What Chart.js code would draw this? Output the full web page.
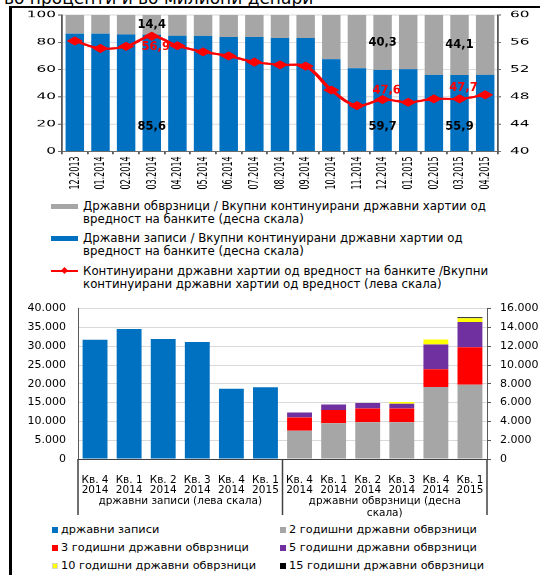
<!DOCTYPE html>
<html>
<head>
<meta charset="utf-8">
<script src="https://cdn.jsdelivr.net/npm/chart.js@4.4.1/dist/chart.umd.min.js"></script>
<style>
  body { margin: 0; width: 540px; height: 575px; overflow: hidden; position: relative; background: #fff;
         font-family: "DejaVu Sans", Verdana, sans-serif; color: #000; }
  #title { position: absolute; left: 4px; top: -10px; font-size: 17px; line-height: 16px; white-space: nowrap; }
  #frameTop { position: absolute; left: 9px; top: 6px; width: 531px; height: 2px; background: #000; z-index: 5; }
  #frameLeft { position: absolute; left: 9px; top: 6px; width: 3px; height: 569px; background: #000; z-index: 5; }
  #shareChart { position: absolute; left: 0; top: 0; transform: scaleX(1.8); transform-origin: 0 0; }
  #volumeChart { position: absolute; left: 0; top: 290px; }
  .tl { position: absolute; left: 83px; font-size: 11.8px; line-height: 13px; white-space: nowrap; }
  .sw { position: absolute; left: -32px; top: 4px; width: 27px; height: 5px; }
  .ln { position: absolute; left: -32px; top: 5px; width: 27px; height: 2px; background: #FF0000; }
  .dm { position: absolute; left: -21px; top: 3px; width: 5px; height: 5px; background: #FF0000; transform: rotate(45deg); }
  .bl { position: absolute; font-size: 11.3px; line-height: 14px; white-space: nowrap; }
  .sq { display: inline-block; width: 6px; height: 6px; margin-right: 3px; vertical-align: 0px; box-sizing: border-box; }
</style>
</head>
<body>
<div id="title">во проценти и во милиони денари</div>
<canvas id="shareChart" width="300" height="196"></canvas>

<div class="tl" style="top:200px"><span class="sw" style="background:#A6A6A6"></span>Државни обврзници / Вкупни континуирани државни хартии од<br>вредност на банките (десна скала)</div>
<div class="tl" style="top:232px"><span class="sw" style="background:#0070C0"></span>Државни записи / Вкупни континуирани државни хартии од<br>вредност на банките (десна скала)</div>
<div class="tl" style="top:265px"><span class="ln"></span><span class="dm"></span>Континуирани државни хартии од вредност на банките /Вкупни<br>континуирани државни хартии од вредност (лева скала)</div>

<canvas id="volumeChart" width="540" height="230"></canvas>

<div class="bl" style="left:52px;top:523px"><span class="sq" style="background:#0070C0"></span>државни записи</div>
<div class="bl" style="left:52px;top:541px"><span class="sq" style="background:#FF0000"></span>3 годишни државни обврзници</div>
<div class="bl" style="left:52px;top:559px"><span class="sq" style="background:#FFFF00;border:1px solid #d8d8c0"></span>10 годишни државни обврзници</div>
<div class="bl" style="left:280px;top:523px"><span class="sq" style="background:#A6A6A6"></span>2 годишни државни обврзници</div>
<div class="bl" style="left:280px;top:541px"><span class="sq" style="background:#7030A0"></span>5 годишни државни обврзници</div>
<div class="bl" style="left:280px;top:559px"><span class="sq" style="background:#000"></span>15 годишни државни обврзници</div>

<div id="frameTop"></div>
<div id="frameLeft"></div>

<script>
// top chart: shares, in %
const months = ['12.2013', '01.2014', '02.2014', '03.2014', '04.2014', '05.2014', '06.2014', '07.2014', '08.2014',
                '09.2014', '10.2014', '11.2014', '12.2014', '01.2015', '02.2015', '03.2015', '04.2015'];
const billsShare = [86.3, 86.3, 85.8, 85.6, 84.8, 84.6, 84.1, 84.1, 83.3, 83.3, 67.6, 61.0, 59.7, 60.3, 56.0, 55.9, 56.1];
const bondsShare = [13.7, 13.7, 14.2, 14.4, 15.2, 15.4, 15.9, 15.9, 16.7, 16.7, 32.4, 39.0, 40.3, 39.7, 44.0, 44.1, 43.9];
const bankShare = [56.2, 55.1, 55.4, 56.9, 55.5, 54.6, 54.0, 53.1, 52.7, 52.5, 49.0, 46.7, 47.6, 47.2, 47.7, 47.7, 48.3];
const labelledMonths = [3, 12, 15];

// bottom chart: volumes, in millions of denars
const quarters = [['Кв. 4', '2014'], ['Кв. 1', '2014'], ['Кв. 2', '2014'], ['Кв. 3', '2014'], ['Кв. 4', '2014'], ['Кв. 1', '2015'],
                  ['Кв. 4', '2014'], ['Кв. 1', '2014'], ['Кв. 2', '2014'], ['Кв. 3', '2014'], ['Кв. 4', '2014'], ['Кв. 1', '2015']];
const groupLabels = [['државни записи (лева скала)'], ['државни обврзници (десна', 'скала)']];
const bills   = [31700, 34600, 31900, 31100, 18700, 19100, null, null, null, null, null, null];
const bonds2y = [null, null, null, null, null, null, 3000, 3800, 3900, 3900, 7650, 7900];
const bonds3y = [null, null, null, null, null, null, 1420, 1420, 1480, 1470, 1900, 4000];
const bonds5y = [null, null, null, null, null, null, 540, 570, 570, 510, 2630, 2670];
const bonds10y = [null, null, null, null, null, null, 0, 0, 0, 180, 540, 400];
const bonds15y = [null, null, null, null, null, null, 0, 0, 0, 0, 0, 100];

const S = 1.8; // the top chart is stretched horizontally
const FONT = '"DejaVu Sans", Verdana, sans-serif';
const fmt = v => v.toFixed(1).replace('.', ',');
const thousands = v => String(v).replace(/\B(?=(\d{3})+(?!\d))/g, '.');

const shareLabels = {
    id: 'shareLabels',
    afterDatasetsDraw(chart) {
        const { ctx, scales: { x, y, y1 } } = chart;
        const put = (text, px, py, color) => {
            ctx.save();
            ctx.translate(px, py);
            ctx.scale(1 / S, 1);
            ctx.font = 'bold 11.5px ' + FONT;
            ctx.textAlign = 'center';
            ctx.textBaseline = 'middle';
            ctx.fillStyle = color;
            ctx.fillText(text, 0, 0);
            ctx.restore();
        };
        const lineShift = [11, -9, -11];
        labelledMonths.forEach((i, k) => {
            const cx = x.getPixelForValue(i);
            put(fmt(bondsShare[i]), cx, y.getPixelForValue(billsShare[i] + bondsShare[i] / 2), '#000');
            put(fmt(billsShare[i]), cx, y.getPixelForValue(18), '#000');
            put(fmt(bankShare[i]), cx + 4 / S, y1.getPixelForValue(bankShare[i]) + lineShift[k], '#FF0000');
        });
    }
};

new Chart(document.getElementById('shareChart'), {
    type: 'bar',
    data: {
        labels: months,
        datasets: [{
            type: 'line',
            data: bankShare,
            yAxisID: 'y1',
            borderColor: '#FF0000',
            backgroundColor: '#FF0000',
            borderWidth: 2.2,
            tension: 0.35,
            pointStyle: 'rectRot',
            pointRadius: 3,
            order: 0
        }, {
            data: billsShare,
            backgroundColor: '#0070C0',
            yAxisID: 'y',
            order: 1,
            barPercentage: 0.72,
            categoryPercentage: 1
        }, {
            data: bondsShare,
            backgroundColor: '#A6A6A6',
            yAxisID: 'y',
            order: 1,
            barPercentage: 0.72,
            categoryPercentage: 1
        }]
    },
    options: {
        responsive: false,
        animation: false,
        devicePixelRatio: S,
        layout: { padding: { top: 15, left: 0, right: 0, bottom: 0 } },
        plugins: { legend: { display: false }, tooltip: { enabled: false } },
        scales: {
            x: {
                stacked: true,
                afterFit: s => { s.height = 45; },
                grid: { drawOnChartArea: false, offset: true, tickLength: 3, color: '#595959' },
                border: { color: '#595959' },
                ticks: { font: { family: FONT, size: 8 }, color: '#000', minRotation: 90, maxRotation: 90, autoSkip: false, padding: 2 }
            },
            y: {
                stacked: true,
                min: 0, max: 100,
                afterFit: s => { s.width = 62 / S; },
                grid: { color: '#D9D9D9', tickColor: '#595959', tickLength: 4 / S },
                border: { color: '#595959' },
                ticks: { stepSize: 20, font: { family: FONT, size: 8.5 }, color: '#000', padding: 2 / S }
            },
            y1: {
                position: 'right',
                min: 40, max: 60,
                afterFit: s => { s.width = 42 / S; },
                grid: { drawOnChartArea: false, tickColor: '#595959', tickLength: 3 / S },
                border: { color: '#595959' },
                ticks: { stepSize: 4, font: { family: FONT, size: 8.5 }, color: '#000', padding: 9 / S }
            }
        }
    },
    plugins: [shareLabels]
});

const groupPlugin = {
    id: 'groups',
    afterDraw(chart) {
        const { ctx, scales: { x }, chartArea } = chart;
        const edges = [x.left, (x.getPixelForValue(5) + x.getPixelForValue(6)) / 2, x.right];
        ctx.save();
        ctx.strokeStyle = '#404040';
        ctx.lineWidth = 1.5;
        edges.forEach(px => {
            ctx.beginPath();
            ctx.moveTo(px, chartArea.bottom);
            ctx.lineTo(px, chartArea.bottom + 56);
            ctx.stroke();
        });
        ctx.font = '10.5px ' + FONT;
        ctx.fillStyle = '#000';
        ctx.textAlign = 'center';
        ctx.textBaseline = 'middle';
        groupLabels.forEach((lines, g) => {
            const cx = (edges[g] + edges[g + 1]) / 2;
            lines.forEach((t, k) => ctx.fillText(t, cx, chartArea.bottom + 42 + k * 12));
        });
        ctx.restore();
    }
};

const bar = (data, color, axis) => ({ data, backgroundColor: color, yAxisID: axis, barPercentage: 0.73, categoryPercentage: 1 });

new Chart(document.getElementById('volumeChart'), {
    type: 'bar',
    data: {
        labels: quarters,
        datasets: [
            bar(bills, '#0070C0', 'y'),
            bar(bonds2y, '#A6A6A6', 'y1'),
            bar(bonds3y, '#FF0000', 'y1'),
            bar(bonds5y, '#7030A0', 'y1'),
            bar(bonds10y, '#FFFF00', 'y1'),
            bar(bonds15y, '#000000', 'y1')
        ]
    },
    options: {
        responsive: false,
        animation: false,
        layout: { padding: { top: 11, left: 0, right: 0, bottom: 0 } },
        plugins: { legend: { display: false }, tooltip: { enabled: false } },
        scales: {
            x: {
                stacked: true,
                afterFit: s => { s.height = 61; },
                grid: { display: false },
                border: { display: true, color: '#404040' },
                ticks: { font: { family: FONT, size: 10.5, lineHeight: 1 }, color: '#000', maxRotation: 0, autoSkip: false, padding: 8 }
            },
            y: {
                stacked: true,
                min: 0, max: 40000,
                afterFit: s => { s.width = 78; },
                grid: { color: '#D9D9D9', drawTicks: false },
                border: { color: '#595959' },
                ticks: { stepSize: 5000, font: { family: FONT, size: 11 }, color: '#000', padding: 12, callback: v => thousands(v) }
            },
            y1: {
                stacked: true,
                position: 'right',
                min: 0, max: 16000,
                afterFit: s => { s.width = 53; },
                grid: { drawOnChartArea: false, tickColor: '#595959', tickLength: 4 },
                border: { color: '#595959' },
                ticks: { stepSize: 2000, font: { family: FONT, size: 11 }, color: '#000', padding: 9, callback: v => thousands(v) }
            }
        }
    },
    plugins: [groupPlugin]
});
</script>
</body>
</html>
